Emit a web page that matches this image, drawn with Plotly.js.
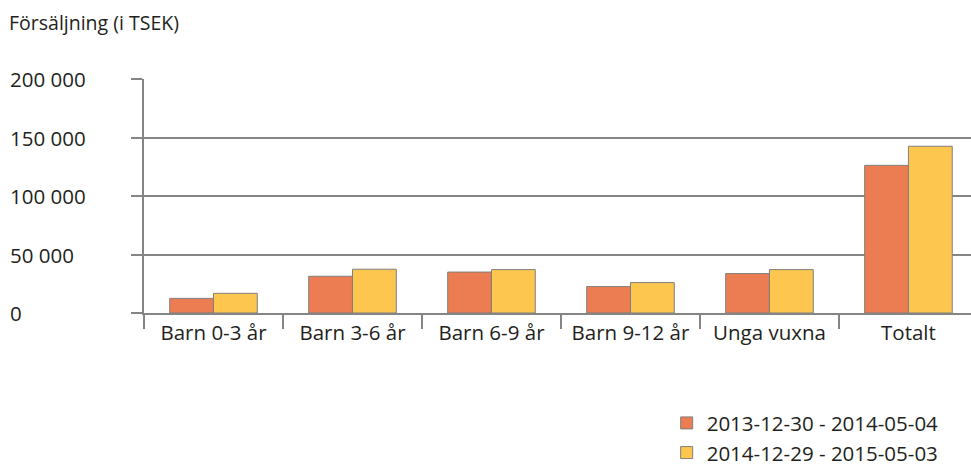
<!DOCTYPE html>
<html><head><meta charset="utf-8">
<script src="https://cdn.plot.ly/plotly-3.0.1.min.js"></script>
<style>body{margin:0;}#chart{width:971px;height:468px;}</style>
</head><body><div id="chart"></div>
<script>
const categories = ["Barn 0-3 år", "Barn 3-6 år", "Barn 6-9 år", "Barn 9-12 år", "Unga vuxna", "Totalt"];
const series1Name = "2013-12-30 - 2014-05-04";
const series2Name = "2014-12-29 - 2015-05-03";
const series1 = [12500, 31400, 35000, 22600, 33700, 126200];
const series2 = [16800, 37400, 37100, 26000, 37100, 142500];
const yTickVals = [0, 50000, 100000, 150000, 200000];
const yTickText = ["0", "50 000", "100 000", "150 000", "200 000"];

const FONT = "Open Sans, Noto Sans, sans-serif";
const GRAY = "#858585";
const TXT = "#231f20";
const FS = 20.5;

const traces = [
  {type: "bar", name: series1Name, x: categories, y: series1,
   marker: {color: "#ec7d52", line: {color: "#7f7f7f", width: 1}}},
  {type: "bar", name: series2Name, x: categories, y: series2,
   marker: {color: "#fdc64f", line: {color: "#7f7f7f", width: 1}}}
];

const annotations = yTickVals.map((v, i) => ({
  xref: "paper", yref: "y", x: -136/827, y: v, xanchor: "left", yanchor: "middle",
  text: yTickText[i], showarrow: false, font: {family: FONT, size: FS, color: TXT}
}));

const layout = {
  width: 971, height: 468,
  margin: {l: 144, r: 0, t: 79, b: 155, autoexpand: false},
  paper_bgcolor: "#ffffff", plot_bgcolor: "#ffffff",
  barmode: "group", bargap: 0.37, bargroupgap: 0,
  font: {family: FONT, size: FS, color: TXT},
  title: {text: "Försäljning (i TSEK)", x: 9/971, xanchor: "left", xref: "container",
          y: 1 - 23/468, yanchor: "middle", yref: "container",
          font: {family: FONT, size: 19.5, color: TXT}},
  xaxis: {type: "category", range: [-0.5, 5.45], showline: true, linecolor: GRAY, linewidth: 2,
          ticks: "outside", tickson: "boundaries", ticklen: 14, tickwidth: 2, tickcolor: GRAY,
          ticklabelstandoff: 0,
          showgrid: false, zeroline: false, tickfont: {family: FONT, size: FS, color: TXT}},
  yaxis: {range: [0, 200000], tickvals: yTickVals, showticklabels: false,
          ticks: "outside", ticklen: 11, tickwidth: 2, tickcolor: GRAY,
          showgrid: true, gridcolor: GRAY, gridwidth: 2, zeroline: false,
          showline: true, linecolor: GRAY, linewidth: 2},
  legend: {x: 0.632, xanchor: "left", y: -0.385, yanchor: "top",
           font: {family: FONT, size: 20.5, color: TXT}, tracegroupgap: 0,
           bgcolor: "rgba(0,0,0,0)"},
  showlegend: true,
  annotations: annotations
};

Plotly.newPlot("chart", traces, layout, {displayModeBar: false, staticPlot: true});
</script>
</body></html>
